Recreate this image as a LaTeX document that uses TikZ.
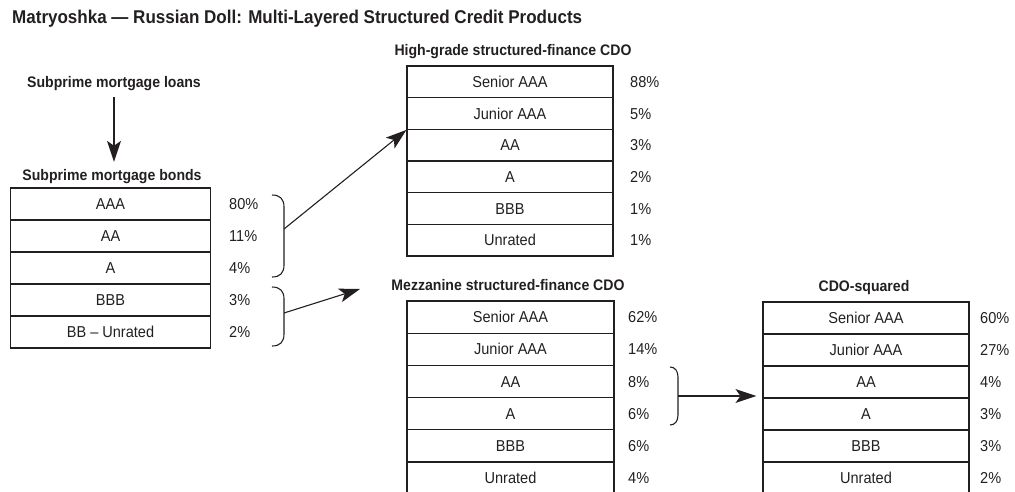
\documentclass[tikz,border=0pt]{standalone}
\usepackage{fontspec}
\setmainfont{Liberation Sans}[FakeStretch=0.92]
\usetikzlibrary{arrows.meta}
\definecolor{ink}{HTML}{231F20}
\begin{document}
\begin{tikzpicture}[x=1pt,y=-1pt,
  row/.style={draw=ink, line width=1.1pt, minimum height=#1, inner sep=0pt,
    text height=11.3pt, text depth=0pt, text=ink, font=\fontsize{15.8}{18}\selectfont},
  pct/.style={anchor=west, inner sep=0pt, text height=11.3pt, text depth=0pt,
    text=ink, font=\fontsize{15.8}{18}\selectfont},
  ttl/.style={inner sep=0pt, text height=11pt, text depth=0pt, text=ink,
    font=\bfseries\fontsize{15.3}{18}\selectfont},
  bigttl/.style={anchor=west, inner sep=0pt, text height=13.2pt, text depth=0pt, text=ink,
    font=\bfseries\fontsize{18.5}{22}\selectfont},
  brk/.style={draw=ink, line width=1.1pt},
  conn/.style={draw=ink, line width=1.1pt,
    -{Stealth[length=21pt,width=14pt,inset=5pt,line width=0pt]}}]
\useasboundingbox (0,0) rectangle (1015,491);

% main title
\node[bigttl] (title) at (12,17) {Matryoshka — Russian Doll: Multi-Layered Structured Credit Products};

% subprime loans -> bonds
\node[ttl] (loans) at (114,82) {Subprime mortgage loans};
\node[ttl] (bonds) at (112,175) {Subprime mortgage bonds};
\draw[conn, shorten <=9.5pt, shorten >=7.5pt] (loans.south) -- (loans.south |- bonds.north);

% subprime mortgage bonds table
\foreach \t/\p [count=\i] in {AAA/80\%,AA/11\%,A/4\%,BBB/3\%,BB – Unrated/2\%} {
  \node[row=32pt, minimum width=200pt] (sb\i) at (110.5,{188+32*(\i-0.5)}) {\t};
  \node[pct] (sbp\i) at (229,{188+32*(\i-0.5)}) {\p};
}

% high-grade CDO
\node[ttl] (hgt) at (513,50) {High-grade structured-finance CDO};
\foreach \t/\p [count=\i] in {Senior AAA/88\%,Junior AAA/5\%,AA/3\%,A/2\%,BBB/1\%,Unrated/1\%} {
  \node[row=31.67pt, minimum width=206pt] (hg\i) at (510,{66+31.67*(\i-0.5)}) {\t};
  \node[pct] (hgp\i) at (630,{66+31.67*(\i-0.5)}) {\p};
}

% mezzanine CDO
\node[ttl] (mzt) at (508,285) {Mezzanine structured-finance CDO};
\foreach \t/\p [count=\i] in {Senior AAA/62\%,Junior AAA/14\%,AA/8\%,A/6\%,BBB/6\%,Unrated/4\%} {
  \node[row=32.2pt, minimum width=207pt] (mz\i) at (510.5,{301+32.2*(\i-0.5)}) {\t};
  \node[pct] (mzp\i) at (628,{301+32.2*(\i-0.5)}) {\p};
}

% CDO-squared
\node[ttl] (cst) at (864,286) {CDO-squared};
\foreach \t/\p [count=\i] in {Senior AAA/60\%,Junior AAA/27\%,AA/4\%,A/3\%,BBB/3\%,Unrated/2\%} {
  \node[row=32pt, minimum width=206pt] (cs\i) at (866,{302+32*(\i-0.5)}) {\t};
  \node[pct] (csp\i) at (980,{302+32*(\i-0.5)}) {\p};
}

% brackets
\draw[brk] (272,195) .. controls (280,195) and (284,199) .. (284,207) -- (284,265)
  .. controls (284,273) and (280,277) .. (272,277);
\coordinate (b1) at (284,229);
\draw[brk] (272,287) .. controls (280,287) and (284,291) .. (284,299) -- (284,334)
  .. controls (284,342) and (280,346) .. (272,346);
\coordinate (b2) at (284,313);
\draw[brk] (670,367) .. controls (675,367) and (678,371) .. (678,377) -- (678,415)
  .. controls (678,421) and (675,425) .. (670,425);
\coordinate (b3) at (678,396);
\coordinate (mzin) at (360,289);

% connectors
\draw[conn] (b1) -- (hg2.south west);
\draw[conn] (b2) -- (mzin);
\draw[conn, shorten >=6pt] (b3) -- (b3 -| cs3.west);
\end{tikzpicture}
\end{document}
